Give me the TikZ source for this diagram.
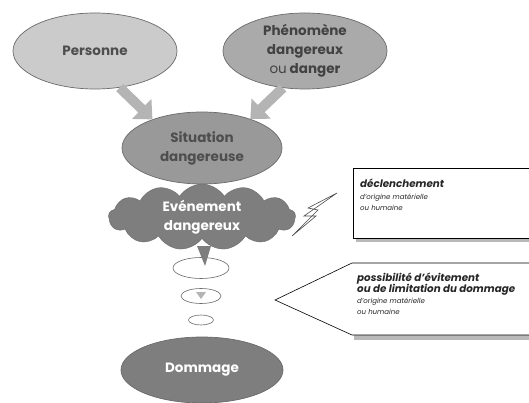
\documentclass[tikz,border=0pt]{standalone}
\usepackage{fontspec}
\setmainfont{Poppins}
\usetikzlibrary{shapes.geometric,shapes.symbols,arrows.meta}
\definecolor{clair}{HTML}{CBCBCB}
\definecolor{moyen}{HTML}{AAAAAA}
\definecolor{sombre}{HTML}{999999}
\definecolor{fonce}{HTML}{7E7E7E}
\definecolor{trait}{HTML}{6A6A6A}
\definecolor{flechegris}{HTML}{B4B4B4}
\definecolor{texte}{HTML}{4E4E4E}
\newcommand{\grastxt}{\bfseries\fontsize{10.3}{11.5}\selectfont}
\newcommand{\finetxt}{\mdseries\fontsize{7}{11}\selectfont}
\tikzset{
  bulle/.style={ellipse, draw=trait, line width=0.7pt, inner sep=0pt, align=center,
    font=\bfseries\fontsize{13.5}{19}\selectfont},
  fleche/.style={draw=flechegris, line width=10pt, -{Triangle[width=27pt,length=15pt]}},
  rond/.style={ellipse, draw=trait, fill=white, line width=0.6pt, inner sep=0pt},
  notice/.style={anchor=north west, inner sep=0pt, align=left, text=black!85,
    font=\itshape\fontsize{7}{11}\selectfont},
}
\begin{document}
\begin{tikzpicture}[x=1pt,y=-1pt]
\clip (0,0) rectangle (529,403);
\fill[white] (0,0) rectangle (529,403);
% Bulles du haut
\node[bulle, fill=clair, text=texte, minimum width=164pt, minimum height=76pt] (pers) at (95,51) {Personne};
\node[bulle, fill=moyen, text=texte!85!black, minimum width=164pt, minimum height=76pt] (phen) at (305,51)
  {Phénomène\\dangereux\\{\mdseries ou} danger};
\node[bulle, fill=sombre, text=texte, minimum width=160pt, minimum height=72pt] (sit) at (202,148)
  {Situation\\dangereuse};
% Flèches
\draw[fleche] (pers.-56) -- (sit.150);
\draw[fleche] (phen.-121) -- (sit.31);
% Nuage
\node[cloud, cloud puffs=13, cloud puff arc=115, cloud ignores aspect, fill=fonce, draw=trait,
  minimum width=187pt, minimum height=66pt, inner sep=0pt, align=center, text=white,
  font=\bfseries\fontsize{13.5}{19}\selectfont] (nuage) at (202,217) {Evénement\\dangereux};
% Petites bulles
\node[rond, minimum width=56pt, minimum height=21pt] (r1) at (201,268) {};
\node[rond, minimum width=40pt, minimum height=15pt] (r2) at (201,296) {};
\node[rond, minimum width=25pt, minimum height=10pt] (r3) at (201,320) {};
\fill[fonce] (197,246) -- (211,246) -- (205,266) -- cycle;
\fill[flechegris] (196,292) -- (206,292) -- (201,299) -- cycle;
% Dommage
\node[bulle, fill=fonce, text=white, minimum width=162pt, minimum height=66pt] (dom) at (202,370) {Dommage};
% Eclair
\draw[fill=white, draw=texte, line width=0.6pt]
  (337,193) -- (308,208) -- (318,210) -- (292,236) -- (316,216) -- (304,216) -- cycle;
% Cadre déclenchement
\fill[gray!55] (356,238) rectangle (540,242);
\draw[fill=white, line width=0.6pt] (353,168) rectangle (540,238);
\node[notice] (decl) at (360,179)
  {\grastxt déclenchement\\[1pt]\finetxt d'origine matérielle\\\finetxt ou humaine};
% Cadre évitement
\fill[gray!55] (354,335) rectangle (540,340);
\draw[fill=white, line width=0.6pt] (275,300) -- (352,263) -- (540,263) -- (540,335) -- (352,335) -- cycle;
\node[notice] (evit) at (357,273)
  {\grastxt possibilité d'évitement\\\grastxt ou de limitation du dommage\\\finetxt d'origine matérielle\\\finetxt ou humaine};
\end{tikzpicture}
\end{document}
